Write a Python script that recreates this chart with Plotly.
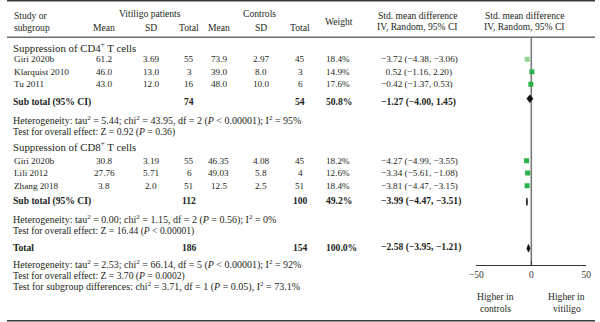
import plotly.graph_objects as go

# ---- data -------------------------------------------------------------
cd4_study = ["Giri 2020b", "Klarquist 2010", "Tu 2011"]
cd4_vit_mean = ["61.2", "46.0", "43.0"]
cd4_vit_sd = ["3.69", "13.0", "12.0"]
cd4_vit_n = [55, 3, 16]
cd4_ctl_mean = ["73.9", "39.0", "48.0"]
cd4_ctl_sd = ["2.97", "8.0", "10.0"]
cd4_ctl_n = [45, 3, 6]
cd4_weight = [18.4, 14.9, 17.6]
cd4_smd = [-3.72, 0.52, -0.42]
cd4_lo = [-4.38, -1.16, -1.37]
cd4_hi = [-3.06, 2.20, 0.53]

cd8_study = ["Giri 2020b", "Lili 2012", "Zhang 2018"]
cd8_vit_mean = ["30.8", "27.76", "3.8"]
cd8_vit_sd = ["3.19", "5.71", "2.0"]
cd8_vit_n = [55, 6, 51]
cd8_ctl_mean = ["46.35", "49.03", "12.5"]
cd8_ctl_sd = ["4.08", "5.8", "2.5"]
cd8_ctl_n = [45, 4, 51]
cd8_weight = [18.2, 12.6, 18.4]
cd8_smd = [-4.27, -3.34, -3.81]
cd8_lo = [-4.99, -5.61, -4.47]
cd8_hi = [-3.55, -1.08, -3.15]

# pooled rows: label, vitiligo n, control n, weight, smd, lo, hi
pooled_label = ["Sub total (95% CI)", "Sub total (95% CI)", "Total"]
pooled_vit_n = [74, 112, 186]
pooled_ctl_n = [54, 100, 154]
pooled_weight = [50.8, 49.2, 100.0]
pooled_smd = [-1.27, -3.99, -2.58]
pooled_lo = [-4.00, -4.47, -3.95]
pooled_hi = [1.45, -3.51, -1.21]

group_titles = ["Suppression of CD4<sup>+</sup> T cells",
                "Suppression of CD8<sup>+</sup> T cells"]
heterogeneity = [
    "Heterogeneity: tau<sup>2</sup> = 5.44; chi<sup>2</sup> = 43.95, df = 2 (<i>P</i> &lt; 0.00001); I<sup>2</sup> = 95%",
    "Heterogeneity: tau<sup>2</sup> = 0.00; chi<sup>2</sup> = 1.15, df = 2 (<i>P</i> = 0.56); I<sup>2</sup> = 0%",
    "Heterogeneity: tau<sup>2</sup> = 2.53; chi<sup>2</sup> = 66.14, df = 5 (<i>P</i> &lt; 0.00001); I<sup>2</sup> = 92%",
]
overall_effect = [
    "Test for overall effect: Z = 0.92 (<i>P</i> = 0.36)",
    "Test for overall effect: Z = 16.44 (<i>P</i> &lt; 0.00001)",
    "Test for overall effect: Z = 3.70 (<i>P</i> = 0.0002)",
]
subgroup_test = ("Test for subgroup differences: chi<sup>2</sup> = 3.71, df = 1 "
                 "(<i>P</i> = 0.05), I<sup>2</sup> = 73.1%")

axis_ticks = [-50, 0, 50]
axis_ticktext = ["\u221250", "0", "50"]

# ---- layout constants (pixels, y measured from top) --------------------
W, H = 600, 322
FONT = "Liberation Serif"
INK = "#231f20"
GREEN = "#27b54a"
LIGHT_GREEN = "#8fd694"

y_study = [[59.3, 71.7, 84.3], [160.7, 173.0, 185.7]]
y_title = [47.3, 146.0]
y_pooled = [101.7, 200.7, 247.3]
y_het = [120.5, 219.5, 264.5]
y_test = [131.5, 230.5, 275.5]
y_subgroup = 286.5
y_axis = 265.0
y_header_sep = 37.3

col = dict(study=7, vmean=99, vsd=147, vn=186, cmean=216, csd=259, cn=299,
           weight=326, smd=382)

S_ROW, S_HEAD, S_BOLD, S_TITLE, S_HET, S_TEST = 9.2, 9.6, 9.6, 10.8, 10, 9.6


def fmt(v):
    return f"{v:.2f}".replace("-", "\u2212")


def ci_text(e, lo, hi):
    lead = "\u2002" if e >= 0 else ""
    return f"{lead}{fmt(e)} ({fmt(lo)}, {fmt(hi)})"


annotations = []


def txt(x, y, s, size=S_ROW, bold=False, anchor="left", color=INK):
    annotations.append(dict(
        x=x / W, y=y, xref="paper", yref="y", text=s, showarrow=False,
        xanchor=anchor, yanchor="middle", align=anchor,
        borderpad=0, borderwidth=0,
        font=dict(family=FONT, size=size, color=color,
                  weight="bold" if bold else "normal")))


# header
txt(col["study"], 15.5, "Study or", S_HEAD)
txt(col["study"], 27.0, "subgroup", S_HEAD)
txt(146, 13.5, "Vitiligo patients", S_HEAD, anchor="center")
txt(258, 13.5, "Controls", S_HEAD, anchor="center")
for key, lab in [("vmean", "Mean"), ("vsd", "SD"), ("vn", "Total"),
                 ("cmean", "Mean"), ("csd", "SD"), ("cn", "Total")]:
    txt(col[key], 27.5, lab, S_HEAD, anchor="center")
txt(339, 21.7, "Weight", S_HEAD, anchor="center")
txt(419, 15.7, "Std. mean difference", S_HEAD, anchor="center")
txt(419, 26.7, "IV, Random, 95% CI", S_HEAD, anchor="center")
txt(528, 15.7, "Std. mean difference", S_HEAD, anchor="center")
txt(528, 26.7, "IV, Random, 95% CI", S_HEAD, anchor="center")

groups = [
    (cd4_study, cd4_vit_mean, cd4_vit_sd, cd4_vit_n, cd4_ctl_mean, cd4_ctl_sd,
     cd4_ctl_n, cd4_weight, cd4_smd, cd4_lo, cd4_hi),
    (cd8_study, cd8_vit_mean, cd8_vit_sd, cd8_vit_n, cd8_ctl_mean, cd8_ctl_sd,
     cd8_ctl_n, cd8_weight, cd8_smd, cd8_lo, cd8_hi),
]

fig = go.Figure()

for g, (st, vm, vs, vn, cm, cs, cn, wt, e, lo, hi) in enumerate(groups):
    txt(6, y_title[g], group_titles[g], S_TITLE)
    for i in range(len(st)):
        y = y_study[g][i]
        txt(col["study"], y, st[i])
        txt(col["vmean"], y, vm[i], anchor="center")
        txt(col["vsd"], y, vs[i], anchor="center")
        txt(col["vn"], y, str(vn[i]), anchor="center")
        txt(col["cmean"], y, cm[i], anchor="center")
        txt(col["csd"], y, cs[i], anchor="center")
        txt(col["cn"], y, str(cn[i]), anchor="center")
        txt(col["weight"], y, f"{wt[i]:.1f}%")
        txt(col["smd"], y, ci_text(e[i], lo[i], hi[i]))
    colors = [LIGHT_GREEN, GREEN, GREEN] if g == 0 else [GREEN] * 3
    fig.add_trace(go.Scatter(
        x=e, y=y_study[g], mode="markers",
        marker=dict(symbol="square", size=5, color=colors, line=dict(width=0)),
        error_x=dict(type="data", symmetric=False,
                     array=[h - v for h, v in zip(hi, e)],
                     arrayminus=[v - l for v, l in zip(e, lo)],
                     color="#4a8a55", thickness=1, width=0),
        hoverinfo="skip"))

for k in range(3):
    y = y_pooled[k]
    txt(6, y, pooled_label[k], S_BOLD, bold=True)
    txt(col["vn"], y, str(pooled_vit_n[k]), S_BOLD, bold=True, anchor="center")
    txt(col["cn"], y, str(pooled_ctl_n[k]), S_BOLD, bold=True, anchor="center")
    txt(col["weight"] - 1, y, f"{pooled_weight[k]:.1f}%", S_BOLD, bold=True)
    txt(col["smd"], y, ci_text(pooled_smd[k], pooled_lo[k], pooled_hi[k]),
        S_BOLD, bold=True)
    txt(6, y_het[k], heterogeneity[k], S_HET)
    txt(6, y_test[k], overall_effect[k], S_TEST)
    # pooled estimate diamond
    yc = y - 3 if k == 0 else y + 1
    fig.add_trace(go.Scatter(
        x=[pooled_lo[k], pooled_smd[k], pooled_hi[k], pooled_smd[k], pooled_lo[k]],
        y=[yc, yc - 3.8, yc, yc + 3.8, yc],
        mode="lines", fill="toself", fillcolor="#111111",
        line=dict(color="#111111", width=0.8), hoverinfo="skip"))

txt(6, y_subgroup, subgroup_test, S_HET)
txt(498, 296.5, "Higher in", S_HEAD, anchor="center")
txt(498, 308.5, "controls", S_HEAD, anchor="center")
txt(571, 296.5, "Higher in", S_HEAD, anchor="center")
txt(571, 308.5, "vitiligo", S_HEAD, anchor="center")

shapes = [
    dict(type="line", xref="paper", yref="y", x0=0, x1=1, y0=0.8, y1=0.8,
         line=dict(color="#3a3a3a", width=1.6)),
    dict(type="line", xref="paper", yref="y", x0=0, x1=1, y0=y_header_sep,
         y1=y_header_sep, line=dict(color="#6d6d6d", width=1.4)),
    dict(type="line", xref="paper", yref="y", x0=0, x1=1, y0=320.8, y1=320.8,
         line=dict(color="#3a3a3a", width=1.6)),
    dict(type="line", xref="x", yref="y", x0=0, x1=0, y0=y_header_sep,
         y1=y_axis, line=dict(color="#7a7a7a", width=1.6), layer="below"),
]

fig.update_layout(
    width=W, height=H, margin=dict(l=0, r=0, t=0, b=0),
    paper_bgcolor="white", plot_bgcolor="rgba(0,0,0,0)",
    showlegend=False, annotations=annotations, shapes=shapes,
    xaxis=dict(domain=[479 / W, 591 / W], range=[-50, 50], anchor="free",
               position=(H - y_axis) / H, showline=True, linecolor="#333333",
               linewidth=1.2, ticks="inside", ticklen=4, tickwidth=1.2,
               tickcolor="#333333", tickvals=axis_ticks, ticktext=axis_ticktext,
               tickfont=dict(family=FONT, size=9.5, color="#333333"),
               showgrid=False, zeroline=False, fixedrange=True),
    yaxis=dict(domain=[0, 1], range=[H, 0], visible=False, fixedrange=True),
)

fig.write_html("out.html")
